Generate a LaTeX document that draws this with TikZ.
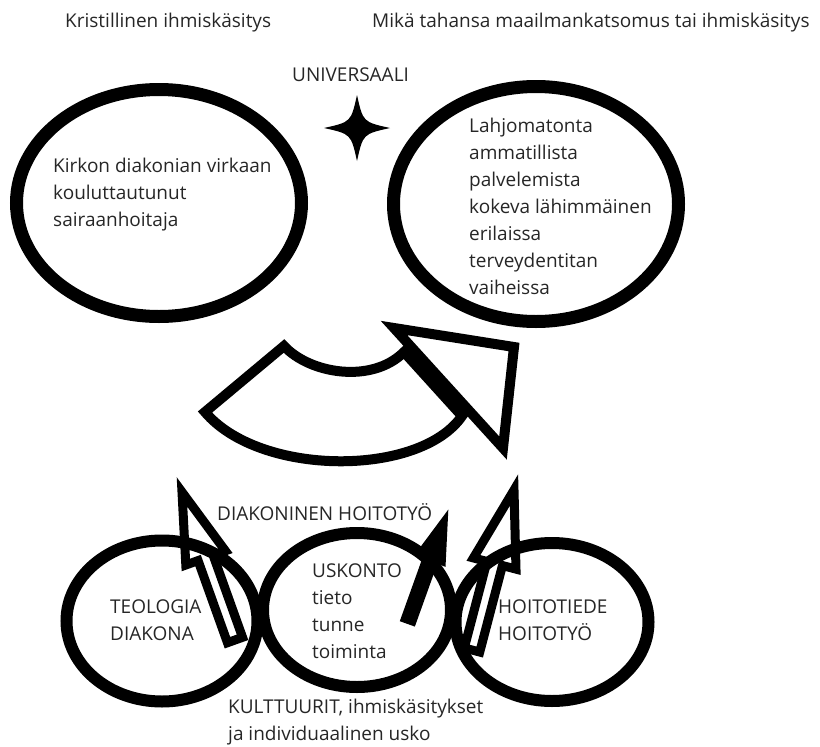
\documentclass[tikz,border=0pt]{standalone}
\usepackage{fontspec}
\setmainfont{Open Sans}
\usepackage{tikz}
\usetikzlibrary{positioning,calc,shapes.geometric}
\tikzset{arr/.style = {line width=9pt, line join=miter}}

\newcommand{\blockarr}[6]{%
  \coordinate (hb) at ($(#2)!#3!(#1)$);
  \draw[#6] ($(#1)!#5!90:(#2)$) -- ($(hb)!#5!90:(#2)$) -- ($(hb)!#4!90:(#2)$) -- (#2)
    -- ($(hb)!#4!-90:(#2)$) -- ($(hb)!#5!-90:(#2)$) -- ($(#1)!#5!-90:(#2)$) -- cycle;}

\begin{document}
\begin{tikzpicture}[x=1pt,y=-1pt,line join=miter,
    ring/.style={ellipse,draw,line width=13pt,inner sep=0pt},
    txt/.style={font=\fontsize{19}{27}\selectfont,text=black!85,align=left,inner sep=0pt,anchor=west}]
  \useasboundingbox (0,0) rectangle (820,747);

  \node[txt] (krist) at (65,23) {Kristillinen ihmiskäsitys};
  \node[txt] (mika) at (372,23) {Mikä tahansa maailmankatsomus tai ihmiskäsitys};
  \node[txt] (univ) at (292,75) {UNIVERSAALI};

  \node[ring, minimum width=285pt, minimum height=227pt] (kirkko) at (159,203) {};
  \node[ring, minimum width=285pt, minimum height=235pt] (lahi) at (536,204) {};
  \node[txt] (kirkkot) at (53,195) {Kirkon diakonian virkaan\\kouluttautunut\\sairaanhoitaja};
  \node[txt] (lahit) at (469,206) {Lahjomatonta\\ammatillista\\palvelemista\\kokeva lähimmäinen\\erilaissa\\terveydentitan\\vaiheissa};

  \fill (357,95) .. controls (363,122) .. (390,128) .. controls (363,134) .. (357,161)
    .. controls (351,134) .. (324,128) .. controls (351,122) .. (357,95) -- cycle;

  \coordinate (ca) at (205,412);
  \coordinate (cb) at (284,346);
  \coordinate (ci) at (404,352);
  \coordinate (co) at (462,416);
  \coordinate (hl) at (394,328);
  \coordinate (tip) at (514,347);
  \coordinate (hr) at (503,448);
  \draw[line width=10pt] (ca) -- (cb) .. controls (310,374) and (372,384) .. (ci) -- (co)
    .. controls (420,477) and (260,477) .. (ca) -- cycle;
  \draw[line width=10pt] (hl) -- (tip) -- (hr) -- cycle;

  \node[ring, line width=12pt, minimum width=191pt, minimum height=161pt] (teol) at (162,621) {};
  \node[ring, line width=12pt, minimum width=188pt, minimum height=154pt] (usko) at (357,610) {};
  \node[ring, line width=12pt, minimum width=193pt, minimum height=158pt] (hoito) at (552,622) {};
  \node[txt] (teolt) at (110,620) {TEOLOGIA\\DIAKONA};
  \node[txt] (uskot) at (312,611) {USKONTO\\tieto\\tunne\\toiminta};
  \node[txt] (hoitot) at (498,620) {HOITOTIEDE\\HOITOTYÖ};
  \node[txt] (diak) at (217,512) {DIAKONINEN HOITOTYÖ};
  \node[txt] (kult) at (228,722) {KULTTUURIT, ihmiskäsitykset\\ja individuaalinen usko};

  \coordinate (ls) at (235,640);
  \coordinate (lt) at (182,492);
  \blockarr{ls}{lt}{70pt}{21pt}{8pt}{arr}
  \coordinate (ms) at (408,622);
  \coordinate (mt) at (446,516);
  \blockarr{ms}{mt}{46pt}{14pt}{6pt}{arr, line width=4pt, fill=black}
  \coordinate (rs) at (472,650);
  \coordinate (rt) at (514,490);
  \blockarr{rs}{rt}{76pt}{22pt}{8pt}{arr}
\end{tikzpicture}
\end{document}
